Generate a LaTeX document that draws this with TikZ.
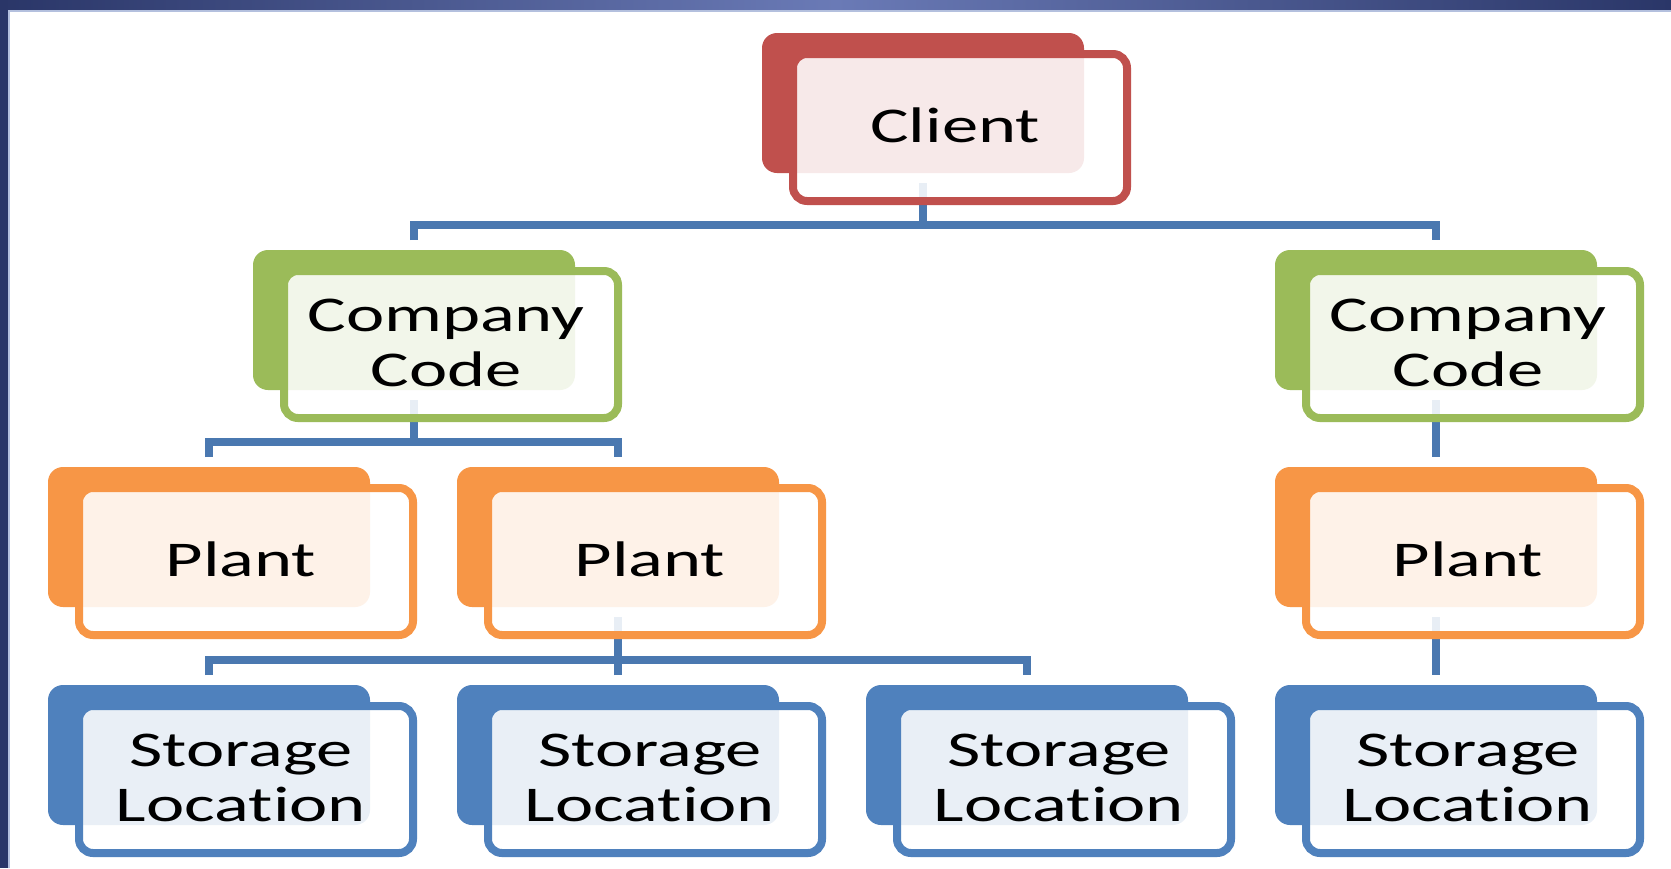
\documentclass[tikz,border=0pt]{standalone}
\usepackage{fontspec}
\usetikzlibrary{calc}
\newfontfamily\boxfont[FakeStretch=1.45, Ligatures=NoCommon]{Carlito}

\definecolor{cRed}{RGB}{192,80,77}
\definecolor{cGreen}{RGB}{155,187,89}
\definecolor{cOrange}{RGB}{247,150,70}
\definecolor{cBlue}{RGB}{79,129,189}
\definecolor{cLine}{RGB}{74,120,176}
\definecolor{barDark}{RGB}{42,54,104}
\definecolor{barMid}{RGB}{106,122,182}
\definecolor{barEdge}{RGB}{180,192,222}

\tikzset{
  backbox/.style={rectangle, rounded corners=15pt, inner sep=0pt,
    minimum width=322pt, minimum height=140pt, fill=#1, draw=none},
  frontbox/.style={rectangle, rounded corners=14pt, inner sep=0pt,
    minimum width=334pt, minimum height=147pt, draw=#1, line width=8pt,
    fill=white, fill opacity=0.88},
  boxtext/.style={inner sep=0pt, text=black, align=center,
    font=\boxfont\fontsize{50}{55}\selectfont},
  conn/.style={draw=cLine, line width=7.5pt, line join=miter, line cap=butt},
}

% a stacked pair: back panel, front label panel and its text
\newcommand{\orgbox}[5]{%
  % #1 name, #2 back centre x, #3 back centre y, #4 colour, #5 text
  \node[backbox=#4] (#1) at (#2,#3) {};
  \node[frontbox=#4] (#1F) at ($(#1.center)+(37,24.5)$) {};
  \node[boxtext] (#1T) at ($(#1F.center)+(-5,-2)$) {#5};
}

\begin{document}
\begin{tikzpicture}[x=1pt, y=-1pt]
  \useasboundingbox (0,0) rectangle (1671,868);
  \fill[white] (0,0) rectangle (1671,868);

  % window frame: shaded title strip and left edge
  \shade[left color=barDark, right color=barDark, middle color=barMid]
    (0,0) rectangle (1671,10);
  \fill[barEdge] (0,10) rectangle (1671,11.5);
  \fill[barDark] (0,0) rectangle (8,868);
  \fill[barEdge] (8,11.5) rectangle (9.5,868);

  % centres of the back panels (panels are drawn later, over the lines)
  \path
    (923,103)  coordinate (pClient)
    (414,320)  coordinate (pCC1)
    (1436,320) coordinate (pCC2)
    (209,537)  coordinate (pP1)
    (618,537)  coordinate (pP2)
    (1436,537) coordinate (pP3)
    (209,755)  coordinate (pS1)
    (618,755)  coordinate (pS2)
    (1027,755) coordinate (pS3)
    (1436,755) coordinate (pS4);

  % connectors
  \draw[conn] ($(pClient)+(0,80)$) -- ($(pClient)+(0,122)$);
  \draw[conn] ($(pCC1)+(0,-80)$) |- ($(pClient)+(0,122)$) -| ($(pCC2)+(0,-80)$);

  \draw[conn] ($(pCC1)+(0,80)$) -- ($(pCC1)+(0,122)$);
  \draw[conn] ($(pP1)+(0,-80)$) |- ($(pCC1)+(0,122)$) -| ($(pP2)+(0,-80)$);

  \draw[conn] ($(pP2)+(0,80)$) -- ($(pP2)+(0,123)$);
  \draw[conn] ($(pS1)+(0,-80)$) |- ($(pP2)+(0,123)$) -| ($(pS3)+(0,-80)$);
  \draw[conn] ($(pS2)+(0,-80)$) -- ($(pP2)+(0,123)$);

  \draw[conn] ($(pCC2)+(0,80)$) -- ($(pP3)+(0,-80)$);
  \draw[conn] ($(pP3)+(0,80)$) -- ($(pS4)+(0,-80)$);

  % boxes
  \orgbox{client}{923}{103}{cRed}{Client}
  \orgbox{cc1}{414}{320}{cGreen}{Company\\Code}
  \orgbox{cc2}{1436}{320}{cGreen}{Company\\Code}
  \orgbox{p1}{209}{537}{cOrange}{Plant}
  \orgbox{p2}{618}{537}{cOrange}{Plant}
  \orgbox{p3}{1436}{537}{cOrange}{Plant}
  \orgbox{s1}{209}{755}{cBlue}{Storage\\Location}
  \orgbox{s2}{618}{755}{cBlue}{Storage\\Location}
  \orgbox{s3}{1027}{755}{cBlue}{Storage\\Location}
  \orgbox{s4}{1436}{755}{cBlue}{Storage\\Location}
\end{tikzpicture}
\end{document}
